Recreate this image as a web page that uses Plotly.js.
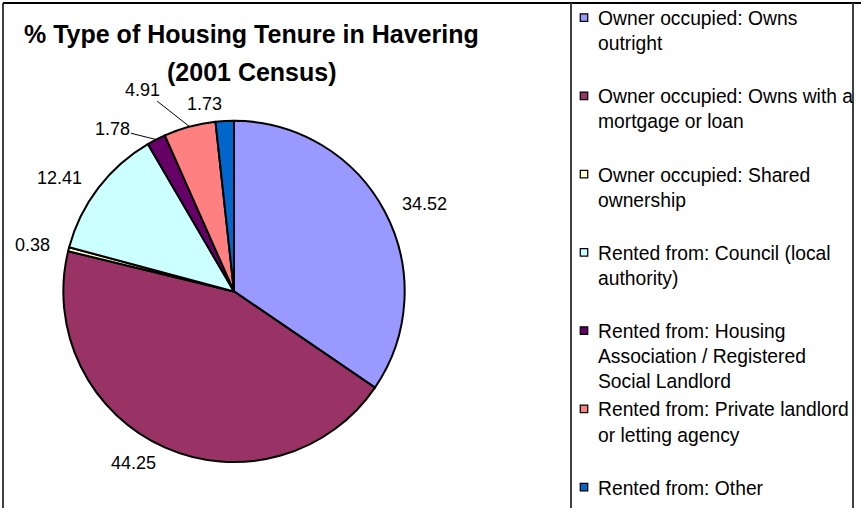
<!DOCTYPE html>
<html>
<head>
<meta charset="utf-8">
<script src="https://cdn.plot.ly/plotly-3.0.1.min.js"></script>
<style>
  html, body { margin: 0; padding: 0; background: #ffffff; }
  #chart { width: 861px; height: 508px; }
  #chart g.legendpoints path.legendpie { transform: translate(26px, 0px) scale(0.62); }
</style>
</head>
<body>
<div id="chart"></div>
<script>
// ---- data ----
const categories = [
  'Owner occupied: Owns<br>outright',
  'Owner occupied: Owns with a<br>mortgage or loan',
  'Owner occupied: Shared<br>ownership',
  'Rented from: Council (local<br>authority)',
  'Rented from: Housing<br>Association / Registered<br>Social Landlord',
  'Rented from: Private landlord<br>or letting agency',
  'Rented from: Other'
];
const values = [34.52, 44.25, 0.38, 12.41, 1.78, 4.91, 1.73];
const valueLabels = ['34.52', '44.25', '0.38', '12.41', '1.78', '4.91', '1.73'];
const titleLines = ['% Type of Housing Tenure in Havering', '(2001 Census)'];

// ---- styling ----
const colors = ['#9999FF', '#993366', '#FFFFCC', '#CCFFFF', '#660066', '#FF8080', '#0066CC'];
const W = 861, H = 508;
const pieCx = 234, pieCy = 291, pieR = 171;
const FONT = 'Liberation Sans, Arial, sans-serif';
const leaderOffsets = { 4: [-44, -11], 5: [-47, -37] };

const px2x = p => p / W;
const px2y = p => 1 - p / H;

// pad legend labels to three lines so items are evenly spaced
const legendLabels = categories.map(c => {
  const n = c.split('<br>').length;
  let s = c;
  for (let i = n; i < 3; i++) s += '<br>\u00a0';
  return s;
});

const trace = {
  type: 'pie',
  labels: legendLabels,
  values: values,
  sort: false,
  direction: 'clockwise',
  rotation: 0,
  textinfo: 'none',
  hoverinfo: 'label+value',
  marker: { colors: colors, line: { color: '#000000', width: 2 } },
  domain: {
    x: [px2x(pieCx - pieR), px2x(pieCx + pieR)],
    y: [px2y(pieCy + pieR), px2y(pieCy - pieR)]
  }
};

// value labels positioned from slice mid-angles
const total = values.reduce((a, b) => a + b, 0);
const annotations = [];
let cum = 0;
values.forEach((v, i) => {
  const mid = (cum + v / 2) / total * 2 * Math.PI;
  cum += v;
  const s = Math.sin(mid), c = Math.cos(mid);
  if (leaderOffsets[i]) {
    const tx = pieCx + pieR * s, ty = pieCy - pieR * c;
    annotations.push({
      xref: 'paper', yref: 'paper', x: px2x(tx), y: px2y(ty),
      text: valueLabels[i], showarrow: true, arrowhead: 0, arrowwidth: 1,
      arrowcolor: '#000000', ax: leaderOffsets[i][0], ay: leaderOffsets[i][1],
      font: { family: FONT, size: 18, color: '#000000' }
    });
  } else {
    const lr = pieR * 1.1;
    const lx = pieCx + lr * s, ly = pieCy - lr * c;
    const xa = Math.abs(s) < 0.02 ? 'center' : (s > 0 ? 'left' : 'right');
    annotations.push({
      xref: 'paper', yref: 'paper', x: px2x(lx), y: px2y(ly),
      xanchor: xa, yanchor: 'middle', showarrow: false,
      text: valueLabels[i],
      font: { family: FONT, size: 18, color: '#000000' }
    });
  }
});

// title
annotations.push({
  xref: 'paper', yref: 'paper', x: px2x(252), y: px2y(33),
  xanchor: 'center', yanchor: 'middle', showarrow: false,
  text: '<b>' + titleLines[0] + '</b>',
  font: { family: FONT, size: 25, color: '#000000' }
});
annotations.push({
  xref: 'paper', yref: 'paper', x: px2x(252), y: px2y(71),
  xanchor: 'center', yanchor: 'middle', showarrow: false,
  text: '<b>' + titleLines[1] + '</b>',
  font: { family: FONT, size: 25, color: '#000000' }
});

const lineStyle = { color: '#404040', width: 2 };
const shapes = [
  { type: 'line', xref: 'paper', yref: 'paper', x0: px2x(3), x1: px2x(3), y0: px2y(2), y1: px2y(520), line: lineStyle },
  { type: 'line', xref: 'paper', yref: 'paper', x0: px2x(3), x1: px2x(870), y0: px2y(2), y1: px2y(2), line: { color: '#000000', width: 2 } },
  { type: 'line', xref: 'paper', yref: 'paper', x0: px2x(571), x1: px2x(571), y0: px2y(2), y1: px2y(520), line: lineStyle },
  { type: 'line', xref: 'paper', yref: 'paper', x0: px2x(853), x1: px2x(853), y0: px2y(2), y1: px2y(520), line: lineStyle }
];

const layout = {
  width: W, height: H,
  margin: { l: 0, r: 0, t: 0, b: 0 },
  paper_bgcolor: '#ffffff',
  plot_bgcolor: '#ffffff',
  showlegend: true,
  legend: {
    x: px2x(558), xanchor: 'left',
    y: px2y(-1.5), yanchor: 'top',
    valign: 'top',
    maxheight: 2000,
    bgcolor: 'rgba(0,0,0,0)',
    borderwidth: 0,
    font: { family: FONT, size: 19.3, color: '#000000' },
    traceorder: 'normal'
  },
  annotations: annotations,
  shapes: shapes
};

Plotly.newPlot('chart', [trace], layout, { displayModeBar: false, staticPlot: true });
</script>
</body>
</html>
